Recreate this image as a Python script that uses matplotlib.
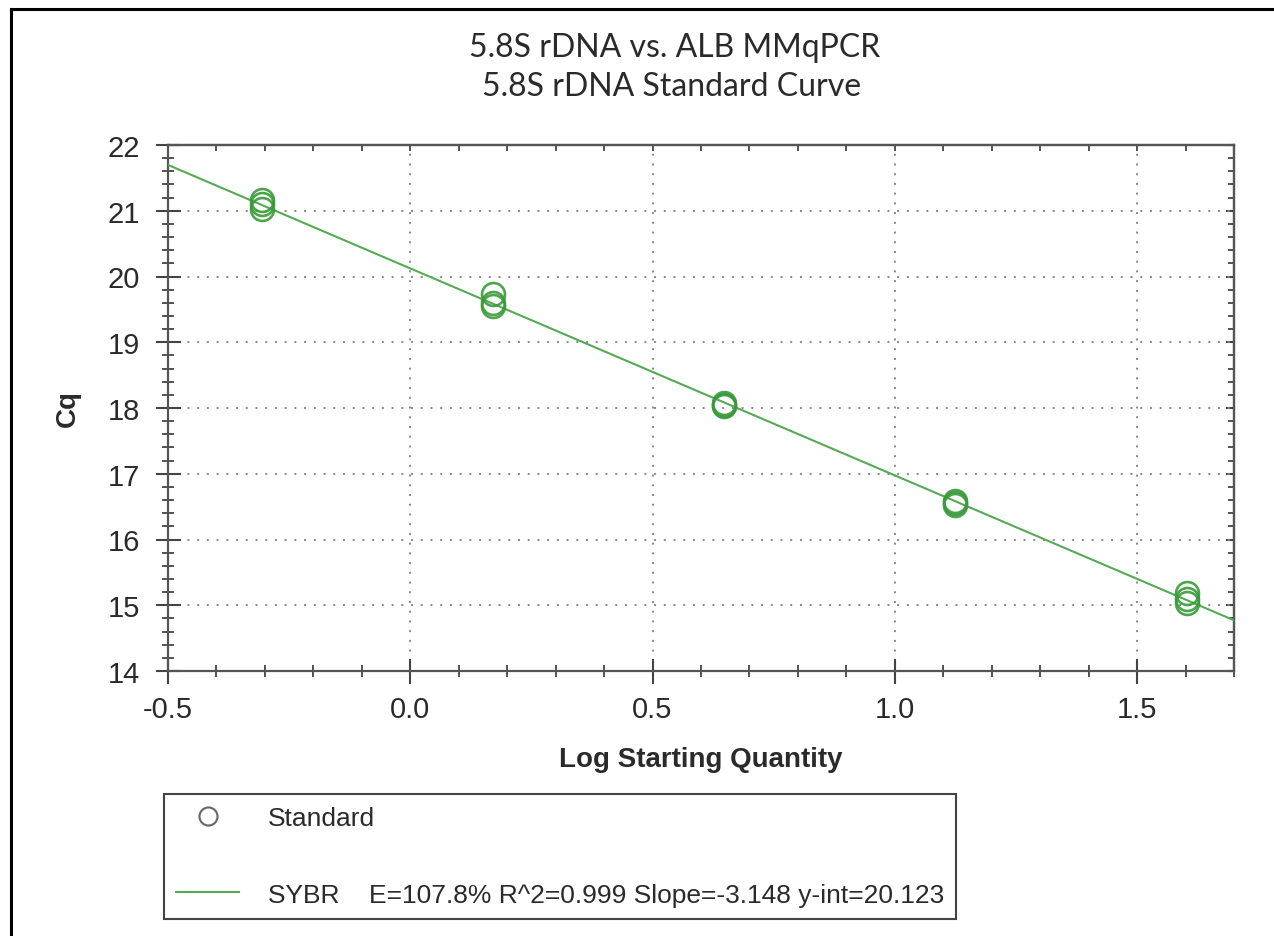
import matplotlib
matplotlib.use("Agg")
import matplotlib.pyplot as plt
from matplotlib.lines import Line2D
from matplotlib.ticker import MultipleLocator
import numpy as np

# standard curve data (log starting quantity, 3 replicates each)
log_qty = [-0.306, 0.171, 0.648, 1.125, 1.602]
cq_rep1 = [21.17, 19.74, 18.08, 16.58, 15.18]
cq_rep2 = [21.11, 19.59, 18.05, 16.55, 15.10]
cq_rep3 = [21.02, 19.55, 18.03, 16.52, 15.03]

# regression from the software
slope = -3.148
y_int = 20.123
fit_label = "SYBR    E=107.8% R^2=0.999 Slope=-3.148 y-int=20.123"

green = "#3a9a3a"
line_green = "#55aa55"
dark = "#2a2a2a"

plt.rcParams['font.family'] = ['Liberation Sans', 'DejaVu Sans']

fig = plt.figure(figsize=(12.74, 9.37), dpi=100)
ax = fig.add_axes([168 / 1274, 1 - 672 / 937, (1234 - 168) / 1274, (672 - 146) / 937])

# fit line over whole x range
xs = np.array([-0.5, 1.7])
ax.plot(xs, slope * xs + y_int, color=line_green, lw=1.5, zorder=3)

for reps in (cq_rep1, cq_rep2, cq_rep3):
    ax.plot(log_qty, reps, ls="none", marker="o", ms=16.5, mfc="none",
            mec=green, mew=1.9, alpha=0.9, zorder=4)

ax.set_xlim(-0.5, 1.7)
ax.set_ylim(14, 22)
ax.xaxis.set_major_locator(MultipleLocator(0.5))
ax.xaxis.set_minor_locator(MultipleLocator(0.1))
ax.yaxis.set_major_locator(MultipleLocator(1))
ax.yaxis.set_minor_locator(MultipleLocator(0.2))
ax.xaxis.set_major_formatter(plt.FuncFormatter(lambda v, p: "%.1f" % v))

ax.grid(True, which="major", color="#888888", ls=(0, (1, 4)), lw=1.4)

ax.tick_params(which="major", direction="inout", length=18, width=1.5,
               colors="#444444", labelcolor=dark, labelsize=21)
ax.tick_params(which="minor", direction="inout", length=9, width=1.3,
               colors="#444444")
ax.tick_params(axis="y", which="major", pad=11)
ax.tick_params(axis="x", which="major", pad=8)

# short inward ticks on top and right
top = ax.secondary_xaxis("top")
top.xaxis.set_major_locator(MultipleLocator(0.5))
top.xaxis.set_minor_locator(MultipleLocator(0.1))
top.tick_params(which="both", direction="in", length=4.5, width=1.3,
                colors="#444444", labeltop=False)
right = ax.secondary_yaxis("right")
right.yaxis.set_major_locator(MultipleLocator(1))
right.yaxis.set_minor_locator(MultipleLocator(0.2))
right.tick_params(which="major", direction="in", length=6, width=1.5,
                  colors="#444444", labelright=False)
right.tick_params(which="minor", direction="in", length=4.5, width=1.3,
                  colors="#444444")
for s in (top.spines["top"], right.spines["right"]):
    s.set_color("#555555")
    s.set_linewidth(1.6)

for s in ax.spines.values():
    s.set_color("#555555")
    s.set_linewidth(1.6)

ax.set_xlabel("Log Starting Quantity", fontsize=20, fontweight="bold",
              color=dark, labelpad=17)
ax.set_ylabel("Cq", fontsize=20, fontweight="bold", color=dark, labelpad=19)

fig.text(675 / 1274, 1 - 57 / 937, "5.8S rDNA vs. ALB MMqPCR", family="Lato",
         fontsize=23, color=dark, ha="center", va="baseline")
fig.text(672 / 1274, 1 - 96 / 937, "5.8S rDNA Standard Curve", family="Lato",
         fontsize=23, color=dark, ha="center", va="baseline")

handles = [
    Line2D([], [], ls="none", marker="o", ms=13, mfc="none", mec="#666666", mew=1.5),
    Line2D([], [], color=line_green, lw=1.5),
]
leg = fig.legend(handles, ["Standard", fit_label], loc="upper left",
                 bbox_to_anchor=(164 / 1274, 1 - 795 / 937),
                 bbox_transform=fig.transFigure, borderaxespad=0,
                 fontsize=19, handlelength=2.4, handletextpad=1.1,
                 labelspacing=2.0, borderpad=0.45, fancybox=False,
                 framealpha=1, edgecolor="#444444")
leg.get_frame().set_linewidth(1.5)
for t in leg.get_texts():
    t.set_color(dark)

# screenshot border (left and top only)
fig.add_artist(Line2D([11 / 1274, 11 / 1274], [0, 1 - 10 / 937],
                      transform=fig.transFigure, color="black", lw=2.2))
fig.add_artist(Line2D([11 / 1274, 1], [1 - 10 / 937, 1 - 10 / 937],
                      transform=fig.transFigure, color="black", lw=2.2))

fig.savefig("out.png", dpi=100)
